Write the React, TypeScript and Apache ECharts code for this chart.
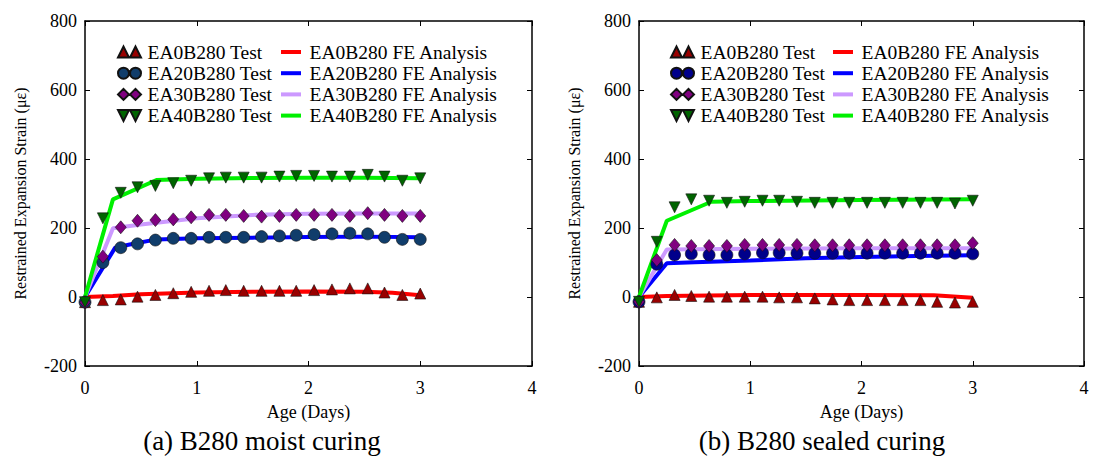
import React, { useEffect, useRef } from "react";
import * as echarts from "echarts";

// ---------- data ----------
const days = [0, 0.16, 0.32, 0.47, 0.63, 0.79, 0.95, 1.11, 1.26, 1.42, 1.58, 1.74, 1.89, 2.05, 2.21, 2.37, 2.53, 2.68, 2.84, 3.0];

// (a) moist curing — tests
const ea0Moist = [-15, -9, -7, 1, 6, 11, 15, 18, 20, 18, 18, 18, 18, 20, 22, 25, 25, 13, 6, 10];
const ea20Moist = [-15, 100, 143, 154, 165, 170, 170, 173, 173, 173, 175, 177, 179, 181, 183, 185, 183, 173, 167, 167];
const ea30Moist = [-15, 117, 202, 221, 223, 225, 231, 238, 238, 235, 233, 235, 238, 238, 238, 235, 243, 238, 235, 235];
const ea40Moist = [-15, 228, 302, 318, 322, 330, 337, 344, 346, 346, 346, 349, 351, 351, 349, 349, 354, 349, 337, 344];

// (a) moist curing — FE analysis
const fe0MoistX = [0, 0.25, 0.5, 1, 1.5, 2, 2.5, 2.75, 3];
const fe0MoistY = [0, 3, 8, 13, 15, 16, 15, 12, 5];
const fe20MoistX = [0, 0.27, 0.4, 0.64, 1, 1.5, 2, 2.5, 3];
const fe20MoistY = [0, 143, 152, 167, 170, 172, 174, 175, 173];
const fe30MoistX = [0, 0.25, 0.5, 1, 1.5, 2, 2.5, 3];
const fe30MoistY = [0, 199, 210, 228, 238, 241, 242, 242];
const fe40MoistX = [0, 0.25, 0.64, 1, 1.5, 2, 2.5, 3];
const fe40MoistY = [0, 283, 339, 343, 345, 346, 346, 344];

// (b) sealed curing — tests
const ea0Sealed = [-14, -1, 6, 3, 1, 1, 1, 1, -1, -1, -4, -7, -9, -9, -9, -9, -9, -14, -16, -14];
const ea20Sealed = [-14, 95, 122, 125, 122, 122, 125, 128, 128, 127, 127, 127, 127, 127, 127, 127, 127, 127, 127, 125];
const ea30Sealed = [-14, 107, 151, 148, 148, 148, 151, 151, 151, 151, 150, 150, 150, 150, 150, 150, 150, 150, 150, 156];
const ea40Sealed = [-14, 160, 260, 283, 279, 273, 276, 279, 279, 276, 273, 273, 273, 273, 273, 273, 273, 273, 271, 279];

// (b) sealed curing — FE analysis
const fe0SealedX = [0, 0.25, 1, 2, 2.65, 3];
const fe0SealedY = [0, 3, 6, 6, 5, -2];
const fe20SealedX = [0, 0.25, 0.5, 1, 1.5, 2, 2.5, 3];
const fe20SealedY = [0, 98, 101, 106, 112, 116, 119, 121];
const fe30SealedX = [0, 0.25, 1, 2, 3];
const fe30SealedY = [0, 138, 140, 141, 141];
const fe40SealedX = [0, 0.25, 0.65, 1, 2, 3];
const fe40SealedY = [0, 221, 276, 278, 281, 283];

const testNames = ["EA0B280 Test", "EA20B280 Test", "EA30B280 Test", "EA40B280 Test"];
const feNames = ["EA0B280 FE Analysis", "EA20B280 FE Analysis", "EA30B280 FE Analysis", "EA40B280 FE Analysis"];
const yTicks = { min: -200, max: 800, interval: 200 };
const xTicks = { min: 0, max: 4, interval: 1 };

// ---------- styling ----------
const FONT = "Liberation Serif";
const lineColors = ["#ff0000", "#0000ff", "#cc99ff", "#00f000"];
const icons = [
  "path://M0,11 L5.5,0 L11,11 Z M12,11 L17.5,0 L23,11 Z",
  "path://M0,5.5 A5.5,5.5 0 1,0 11,5.5 A5.5,5.5 0 1,0 0,5.5 Z M12,5.5 A5.5,5.5 0 1,0 23,5.5 A5.5,5.5 0 1,0 12,5.5 Z",
  "path://M5.5,0 L11,5.5 L5.5,11 L0,5.5 Z M17.5,0 L23,5.5 L17.5,11 L12,5.5 Z",
  "path://M0,0 L11,0 L5.5,11 Z M12,0 L23,0 L17.5,11 Z",
];
const lineIcon = "path://M0,0 L20,0 L20,4 L0,4 Z";

const zip = (xs: number[], ys: number[]) => xs.map((x, i) => [x, ys[i]]);

interface PanelCfg {
  gridLeft: number;
  gridWidth: number;
  tests: number[][];
  feX: number[][];
  feY: number[][];
  markerColors: string[];
  legend1Left: number;
  legend2Left: number;
  caption: string;
  captionX: number;
}

function buildOption(c: PanelCfg) {
  const axisLine = { show: true, onZero: false, lineStyle: { color: "#000", width: 1.5 } };
  const axisTick = { show: true, inside: true, length: 5, lineStyle: { color: "#000", width: 1 } };
  const label = { color: "#000", fontSize: 18, fontFamily: FONT };
  const symbols = ["triangle", "circle", "diamond", "triangle"];
  const sizes: any[] = [11, 12, [11, 13], 11];
  const legendText = { color: "#000", fontSize: 19.5, lineHeight: 20, fontFamily: FONT };
  const series: any[] = [];
  feNames.forEach((n, i) => {
    series.push({
      name: n,
      type: "line",
      data: zip(c.feX[i], c.feY[i]),
      showSymbol: false,
      symbol: "none",
      xAxisIndex: 0,
      yAxisIndex: 0,
      lineStyle: { color: lineColors[i], width: 4 },
      itemStyle: { color: lineColors[i] },
      z: 2,
    });
  });
  testNames.forEach((n, i) => {
    series.push({
      name: n,
      type: "scatter",
      data: zip(days, c.tests[i]),
      symbol: symbols[i],
      symbolRotate: i === 3 ? 180 : 0,
      symbolSize: sizes[i],
      xAxisIndex: 0,
      yAxisIndex: 0,
      itemStyle: { color: c.markerColors[i], borderColor: "#111", borderWidth: 0.6, opacity: 1 },
      z: 3 + i,
    });
  });
  return {
    animation: false,
    textStyle: { fontFamily: FONT },
    grid: { left: c.gridLeft, width: c.gridWidth, top: 21, height: 345, containLabel: false },
    xAxis: [
      {
        type: "value", ...xTicks, position: "bottom",
        axisLine, axisTick, splitLine: { show: false },
        axisLabel: { ...label, margin: 13 },
        name: "Age (Days)", nameLocation: "middle", nameGap: 37,
        nameTextStyle: { color: "#000", fontSize: 18, fontFamily: FONT },
      },
      {
        type: "value", ...xTicks, position: "top",
        axisLine, axisTick, splitLine: { show: false }, axisLabel: { show: false },
      },
    ],
    yAxis: [
      {
        type: "value", ...yTicks, position: "left",
        axisLine, axisTick, splitLine: { show: false },
        axisLabel: { ...label, margin: 8 },
        name: "Restrained Expansion Strain (\u03bc\u03b5)", nameLocation: "middle", nameGap: 57,
        nameTextStyle: { color: "#000", fontSize: 16, fontFamily: FONT },
      },
      {
        type: "value", ...yTicks, position: "right",
        axisLine, axisTick, splitLine: { show: false }, axisLabel: { show: false },
      },
    ],
    legend: [
      {
        orient: "vertical", left: c.legend1Left, top: 42, padding: 0,
        itemWidth: 26, itemHeight: 11, itemGap: 1.2, selectedMode: false, symbolKeepAspect: true,
        data: testNames.map((n, i) => ({ name: n, icon: icons[i] })),
        textStyle: legendText,
      },
      {
        orient: "vertical", left: c.legend2Left, top: 42, padding: 0,
        itemWidth: 27, itemHeight: 4, itemGap: 1.2, selectedMode: false, symbolKeepAspect: true,
        data: feNames.map((n) => ({ name: n, icon: lineIcon })),
        textStyle: legendText,
      },
    ],
    graphic: [
      {
        type: "text", x: c.captionX, y: 441,
        style: {
          text: c.caption, fill: "#000", fontSize: 27, fontFamily: FONT,
          textAlign: "center", textVerticalAlign: "middle", align: "center", verticalAlign: "middle",
        },
      },
    ],
    series,
  };
}

const panelA: PanelCfg = {
  gridLeft: 85,
  gridWidth: 447,
  tests: [ea0Moist, ea20Moist, ea30Moist, ea40Moist],
  feX: [fe0MoistX, fe20MoistX, fe30MoistX, fe40MoistX],
  feY: [fe0MoistY, fe20MoistY, fe30MoistY, fe40MoistY],
  markerColors: ["#990000", "#103d6b", "#800080", "#006400"],
  legend1Left: 117,
  legend2Left: 281,
  caption: "(a) B280 moist curing",
  captionX: 262,
};

const panelB: PanelCfg = {
  gridLeft: 92,
  gridWidth: 445,
  tests: [ea0Sealed, ea20Sealed, ea30Sealed, ea40Sealed],
  feX: [fe0SealedX, fe20SealedX, fe30SealedX, fe40SealedX],
  feY: [fe0SealedY, fe20SealedY, fe30SealedY, fe40SealedY],
  markerColors: ["#990000", "#00008b", "#800080", "#006400"],
  legend1Left: 123,
  legend2Left: 286,
  caption: "(b) B280 sealed curing",
  captionX: 275,
};

function Panel({ cfg, left }: { cfg: PanelCfg; left: number }) {
  const ref = useRef<HTMLDivElement>(null);
  useEffect(() => {
    if (!ref.current) return;
    const chart = echarts.init(ref.current, undefined, { renderer: "svg" });
    chart.setOption(buildOption(cfg));
    return () => chart.dispose();
  }, [cfg]);
  return <div ref={ref} style={{ position: "absolute", left, top: 0, width: 547, height: 462 }} />;
}

export default function App() {
  return (
    <div style={{ position: "absolute", left: 0, top: 0, width: 1094, height: 462, background: "#fff", overflow: "hidden" }}>
      <Panel cfg={panelA} left={0} />
      <Panel cfg={panelB} left={547} />
    </div>
  );
}
